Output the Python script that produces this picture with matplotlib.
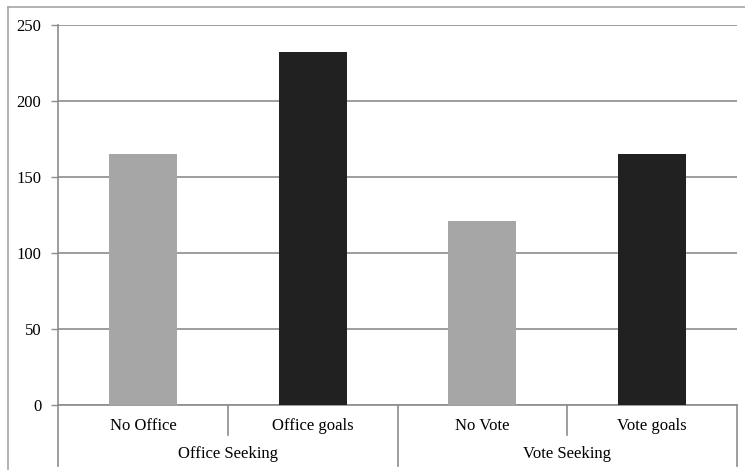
import matplotlib.pyplot as plt
from matplotlib.lines import Line2D
import matplotlib.transforms as mtransforms

# дані
categories = ["No Office", "Office goals", "No Vote", "Vote goals"]
values = [165, 232, 121, 165]
bar_colors = ["#a6a6a6", "#212121", "#a6a6a6", "#212121"]
groups = ["Office Seeking", "Vote Seeking"]
yticks = [0, 50, 100, 150, 200, 250]

W, H = 745, 470
plt.rcParams['font.family'] = ['Liberation Serif', 'DejaVu Serif']

fig = plt.figure(figsize=(W / 100, H / 100), dpi=100)
ax = fig.add_axes([58 / W, 1 - 405 / H, (737 - 58) / W, (405 - 25) / H])

x = list(range(len(categories)))
ax.bar(x, values, width=0.4, color=bar_colors, zorder=3)

ax.set_xlim(-0.5, len(categories) - 0.5)
ax.set_ylim(0, 250)
ax.set_yticks(yticks)
ax.set_yticklabels([str(v) for v in yticks], fontsize=12)
ax.yaxis.grid(True, color="#8c8c8c", linewidth=1.2, zorder=0)
ax.tick_params(axis="y", length=5, color="#8c8c8c", width=1, pad=7)
ax.set_xticks([])

for side in ["top", "right"]:
    ax.spines[side].set_visible(False)
ax.spines["left"].set_color("#8c8c8c")
ax.spines["bottom"].set_color("#8c8c8c")
ax.spines["left"].set_linewidth(1.2)
ax.spines["bottom"].set_linewidth(1.2)

# дворівнева вісь x
trans = mtransforms.blended_transform_factory(ax.transData, ax.transAxes)
plot_h = 405 - 25
minor_y = -(435 - 405) / plot_h
major_y = -(466 - 405) / plot_h
for b in [0.5, 2.5]:
    ax.plot([b, b], [0, minor_y], color="#8c8c8c", lw=1.2, transform=trans, clip_on=False)
for b in [-0.5, 1.5, 3.5]:
    ax.plot([b, b], [0, major_y], color="#8c8c8c", lw=1.2, transform=trans, clip_on=False)

for i, c in enumerate(categories):
    ax.text(i, -(426 - 405) / plot_h, c, transform=trans, ha="center", va="center", fontsize=12)
for g, name in enumerate(groups):
    ax.text(2 * g + 0.5, -(454 - 405) / plot_h, name, transform=trans, ha="center", va="center", fontsize=12)

# рамка навколо графіка
fig.add_artist(Line2D([8 / W, 8 / W], [0, 1 - 7 / H], color="#a6a6a6", lw=1.2, transform=fig.transFigure))
fig.add_artist(Line2D([8 / W, 1], [1 - 7 / H, 1 - 7 / H], color="#a6a6a6", lw=1.2, transform=fig.transFigure))

fig.savefig("out.png", dpi=100)
